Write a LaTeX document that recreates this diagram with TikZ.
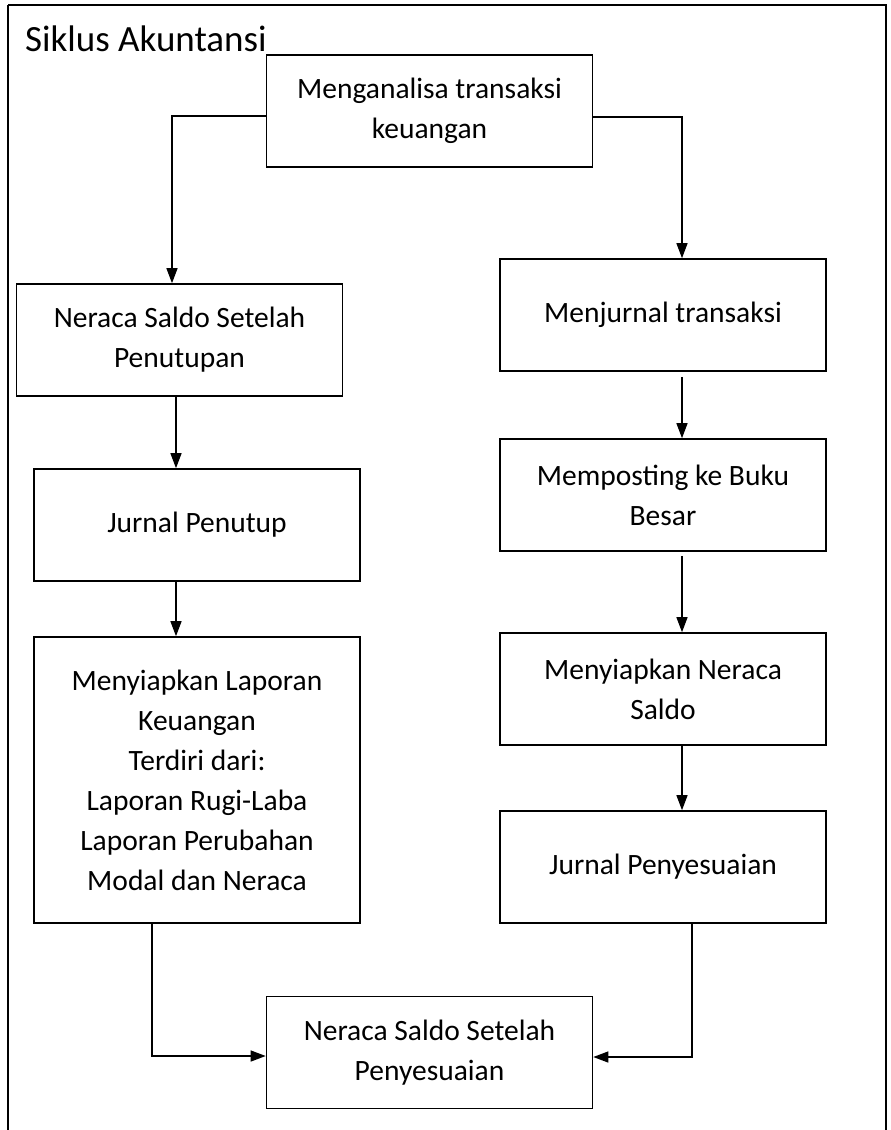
\documentclass[tikz,border=0pt]{standalone}
\usepackage{fontspec}
\setmainfont{Carlito}
\usetikzlibrary{arrows.meta,calc}
\tikzset{
  box/.style={draw,line width=1.6pt,minimum width=326pt,minimum height=112pt,align=center,font=\fontsize{29.5}{40}\selectfont,inner sep=0pt},
  arr/.style={-{Triangle[length=15pt,width=11pt]},line width=1.3pt}
}
\begin{document}
\begin{tikzpicture}[x=1pt,y=-1pt]
\useasboundingbox (0,0) rectangle (891,1130);
\draw[line width=1.6pt] (8,5) -- (886,5) -- (886,1140);
\draw[line width=1.6pt] (8,5) -- (8,1140);
\node[anchor=base west,font=\fontsize{37}{42}\selectfont,inner sep=0pt] (title) at (25,51) {Siklus Akuntansi};

\node[box] (an) at (429.5,111) {Menganalisa transaksi\\keuangan};
\node[box] (nssp) at (179.5,340) {Neraca Saldo Setelah\\Penutupan};
\node[box] (jp) at (197,525) {Jurnal Penutup};
\node[box,minimum height=286pt] (mlk) at (197,780) {Menyiapkan Laporan\\Keuangan\\Terdiri dari:\\Laporan Rugi-Laba\\Laporan Perubahan\\Modal dan Neraca};
\node[box] (mj) at (663,315) {Menjurnal transaksi};
\node[box] (mp) at (663,495) {Memposting ke Buku\\Besar};
\node[box] (mn) at (663,689) {Menyiapkan Neraca\\Saldo};
\node[box] (jpy) at (663,867) {Jurnal Penyesuaian};
\node[box] (nssy) at (429.5,1052.5) {Neraca Saldo Setelah\\Penyesuaian};

\coordinate (L1) at (172,116);
\coordinate (R1) at (682,117);
\coordinate (L2) at (176,0);
\coordinate (L3) at (152,1056);
\coordinate (R3) at (692,1057);

\draw[arr] (an.west |- L1) -- (L1) -- (L1 |- nssp.north);
\draw[arr] (an.east |- R1) -- (R1) -- (R1 |- mj.north);
\draw[arr,shorten <=5pt] (mj.south -| R1) -- (mp.north -| R1);
\draw[arr,shorten <=4pt] (mp.south -| R1) -- (mn.north -| R1);
\draw[arr] (mn.south -| R1) -- (jpy.north -| R1);
\draw[arr] (nssp.south -| L2) -- (jp.north -| L2);
\draw[arr] (jp.south -| L2) -- (mlk.north -| L2);
\draw[arr] (mlk.south -| L3) -- (L3) -- (L3 -| nssy.west);
\draw[arr] (jpy.south -| R3) -- (R3) -- (R3 -| nssy.east);
\end{tikzpicture}
\end{document}
